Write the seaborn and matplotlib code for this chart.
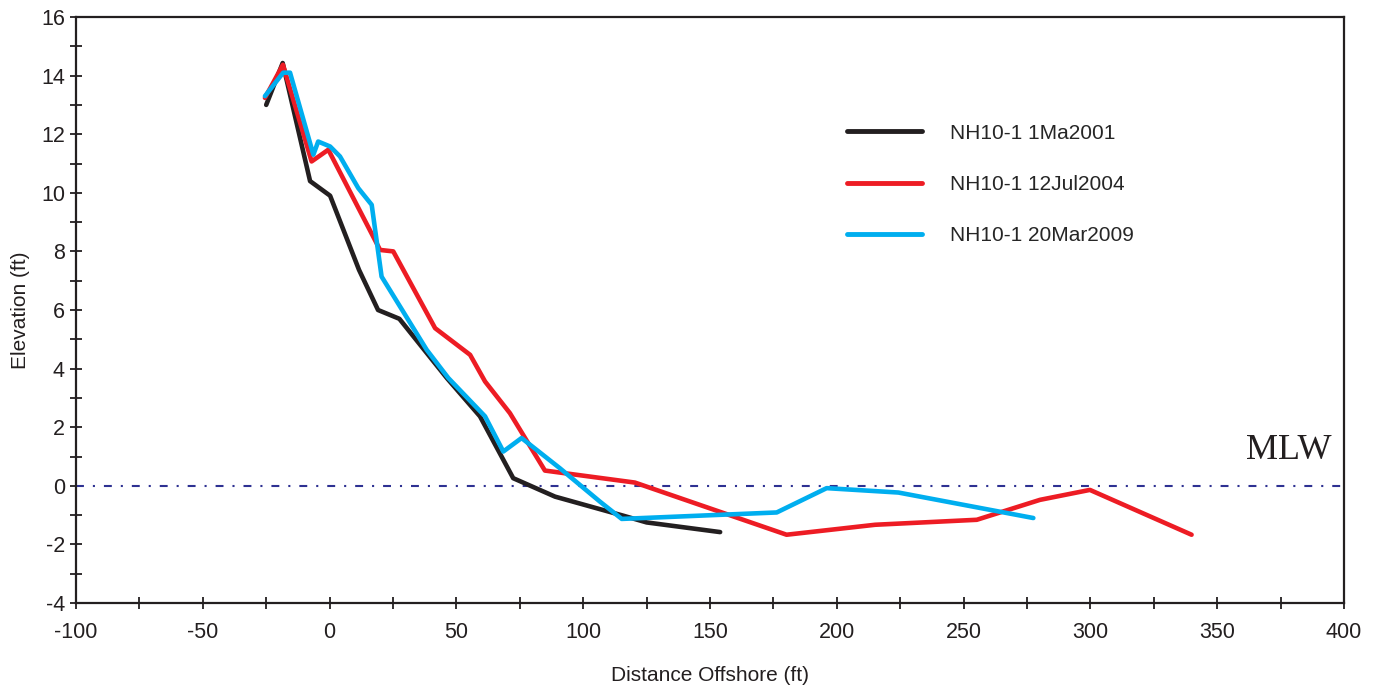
import pandas as pd
import matplotlib
matplotlib.use("Agg")
import matplotlib.pyplot as plt
import seaborn as sns
from matplotlib.ticker import MultipleLocator

# Profile data (distance offshore ft, elevation ft)
x_2001 = [-25, -18.5, -7.7, 0.2, 11.6, 19.1, 27.5, 46.2, 59.3, 72.4, 88.9, 115.8, 125, 154]
y_2001 = [13.0, 14.43, 10.4, 9.9, 7.37, 6.0, 5.7, 3.68, 2.37, 0.26, -0.37, -1.02, -1.25, -1.58]

x_2004 = [-25.5, -18.4, -7.1, -0.5, 19.9, 25.1, 41.6, 55.4, 61.3, 71.1, 84.9, 120.4,
          180.2, 215.1, 255.2, 280.1, 299.8, 339.9]
y_2004 = [13.24, 14.37, 11.07, 11.47, 8.05, 8.0, 5.38, 4.47, 3.56, 2.48, 0.52, 0.11,
          -1.67, -1.33, -1.16, -0.48, -0.14, -1.67]

x_2009 = [-25.5, -18.3, -15.6, -6.4, -4.5, 0.2, 4.1, 11.3, 16.6, 20.5, 38.3, 46.8, 61.3,
          68.5, 75.7, 90.8, 106.6, 115.2, 176.3, 196, 224.3, 277.5]
y_2009 = [13.3, 14.1, 14.1, 11.3, 11.75, 11.58, 11.24, 10.16, 9.59, 7.14, 4.64, 3.68, 2.37,
          1.17, 1.63, 0.6, -0.54, -1.13, -0.91, -0.08, -0.23, -1.1]

labels = ["NH10-1 1Ma2001", "NH10-1 12Jul2004", "NH10-1 20Mar2009"]
colors = ["#231f20", "#ed1c24", "#00aeef"]

df = pd.concat([
    pd.DataFrame({"dist": x_2001, "elev": y_2001, "survey": labels[0]}),
    pd.DataFrame({"dist": x_2004, "elev": y_2004, "survey": labels[1]}),
    pd.DataFrame({"dist": x_2009, "elev": y_2009, "survey": labels[2]}),
], ignore_index=True)

sns.set_style("ticks")
plt.rcParams["font.family"] = ["Liberation Sans", "DejaVu Sans"]
plt.rcParams["axes.unicode_minus"] = False

fig = plt.figure(figsize=(13.77, 6.88), dpi=100)
ax = fig.add_axes([76 / 1377, 1 - 603 / 688, 1268 / 1377, 586 / 688])

# mean low water reference line
ax.axhline(0, color="#2e3192", lw=1.5, linestyle=(0, (3.8, 4.3, 1, 4.3)), zorder=1)

sns.lineplot(data=df, x="dist", y="elev", hue="survey", palette=colors,
             sort=False, estimator=None, lw=3.3, ax=ax, zorder=3)

ax.text(395, 0.9, "MLW", family="Liberation Serif", fontsize=26,
        ha="right", va="baseline", color="#231f20")

ax.set_xlim(-100, 400)
ax.set_ylim(-4, 16)
ax.xaxis.set_major_locator(MultipleLocator(50))
ax.xaxis.set_minor_locator(MultipleLocator(25))
ax.yaxis.set_major_locator(MultipleLocator(2))
ax.yaxis.set_minor_locator(MultipleLocator(1))
ax.tick_params(which="both", direction="inout", length=8, width=1.3, color="#231f20",
               labelsize=15.5, labelcolor="#231f20")
ax.tick_params(axis="x", which="major", pad=10)
ax.tick_params(axis="y", which="major", pad=4)

for sp in ax.spines.values():
    sp.set_linewidth(1.6)
    sp.set_color("#231f20")

ax.set_xlabel("Distance Offshore (ft)", fontsize=15, color="#231f20", labelpad=16)
ax.set_ylabel("Elevation (ft)", fontsize=15, color="#231f20", labelpad=8)

leg = ax.legend(loc="upper left", bbox_to_anchor=(0.593, 0.85), frameon=False,
                fontsize=15, handlelength=3.6, handletextpad=1.35, labelspacing=1.55)
for line in leg.get_lines():
    line.set_linewidth(3.5)

fig.savefig("out.png", dpi=100)
